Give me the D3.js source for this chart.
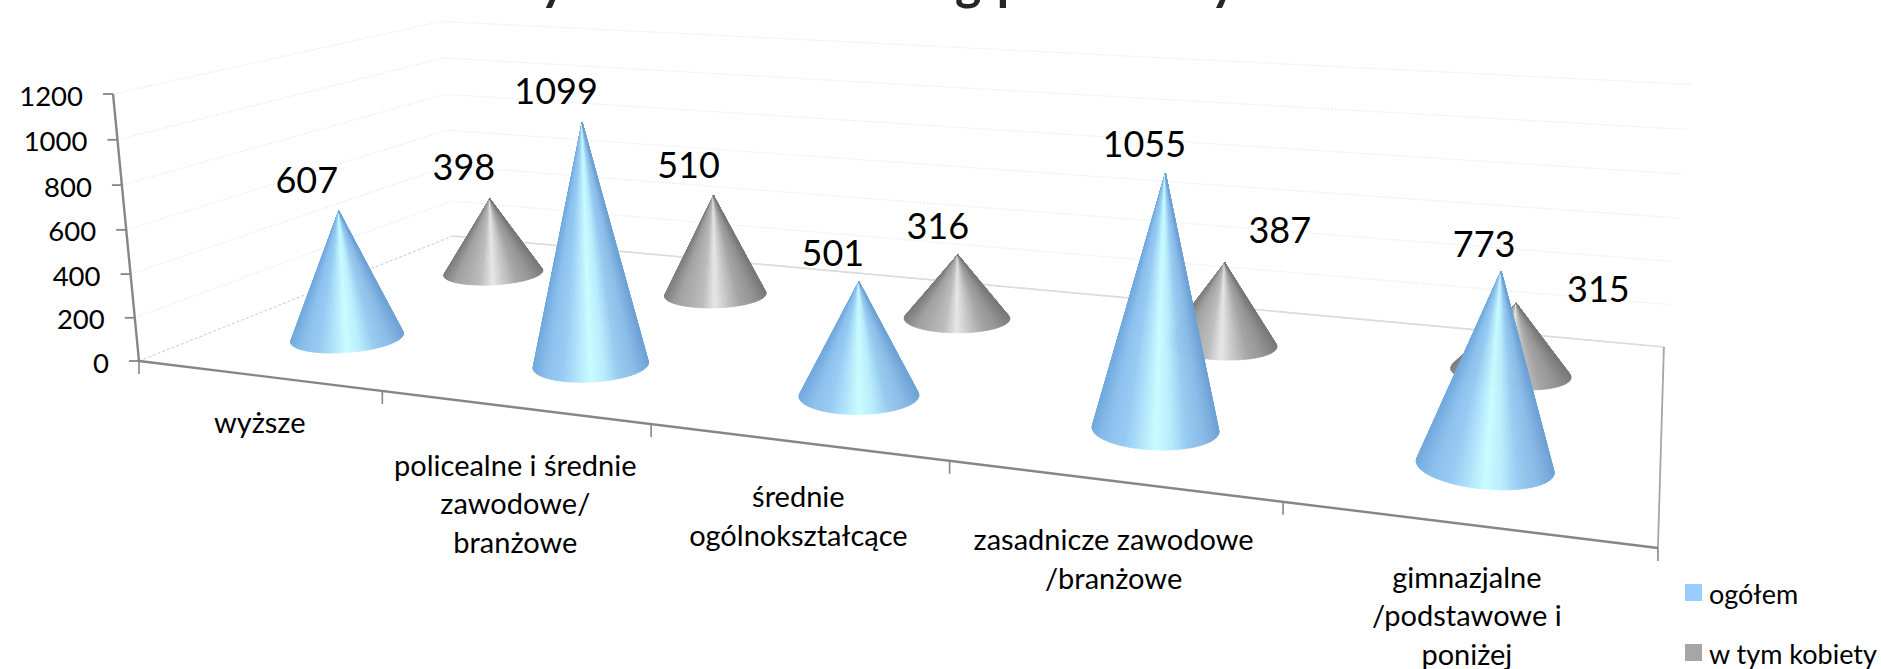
<!DOCTYPE html>
<html><head><meta charset="utf-8">
<script src="https://cdnjs.cloudflare.com/ajax/libs/d3/7.8.5/d3.min.js"></script>
<style>html,body{margin:0;background:#fff;overflow:hidden}text{font-family:Lato,"Open Sans",sans-serif;fill:#000}</style>
</head><body><svg id="c" width="1881" height="669"></svg>
<script>
const titleParts = ["Osoby"," bezrobotne według"," poziomu w","ykształcenia"];
const titleSpacing = [0,-1.7,-3.2,0];
const titleShift = [0,0,8,0];
const categories = ["wyższe","policealne i średnie","średnie","zasadnicze zawodowe","gimnazjalne"];
const categoryLines = [["wyższe"],["policealne i średnie","zawodowe/","branżowe"],["średnie","ogólnokształcące"],["zasadnicze zawodowe","/branżowe"],["gimnazjalne","/podstawowe i","poniżej"]];
const seriesNames = ["w tym kobiety","ogółem"];
const ogolem = [607,1099,501,1055,773];
const kobiety = [398,510,316,387,315];
const yTicks = [0,200,400,600,800,1000,1200];
const swatch = {"ogółem":"#99ccff","w tym kobiety":"#a6a6a6"};
const shades = {
 "ogółem":["#72aade","#8cc0ee","#95caf3","#aee2fa","#c9fcff","#b8ecfc","#96caf0","#8abce8","#6fa3d6"],
 "w tym kobiety":["#7f7f7f","#a0a0a0","#adadad","#bcbcbc","#e6e6e6","#c4c4c4","#a4a4a4","#949494","#7a7a7a"]
};
// manual label nudges, as in the source chart (px from cone apex)
const labelNudge = {"ogółem":[[-32,-30],[-26,-31],[-26,-28],[-21,-29],[-17,-27]],"w tym kobiety":[[-26,-31],[-25,-30],[-20,-28],[55,-32],[82,-14]]};
const catLabelGap = [46,57,54,58,52];

const svg = d3.select("#c");
// projective camera: floor coords u,v in 0..1, height w in 0..1
const cam = {a:1126,b:429.7,c:139,p:-29.9,d:57.1,e:-64.7,f:361,r:-270.25,g:-0.237,h:0.2555,q:-0.0346};
const proj = (u,v,w=0)=>{const W=cam.g*u+cam.h*v+cam.q*w+1;
  return [(cam.a*u+cam.b*v+cam.p*w+cam.c)/W,(cam.d*u+cam.e*v+cam.r*w+cam.f)/W];};
const uScale = d3.scaleBand().domain(categories).range([0,1]);
const vScale = d3.scalePoint().domain(["ogółem","w tym kobiety"]).range([0.25,0.75]);
const wScale = d3.scaleLinear().domain([0,1200]).range([0,1]);
const coneScale = d3.scaleLinear().domain([0,1200]).range([0,0.987]);
const RU=0.0395, RV=0.1;
const line = d3.line();

// gridlines on the walls
const grid = svg.append("g").attr("fill","none").attr("stroke-width",1.2);
yTicks.forEach(t=>{const w=wScale(t);
  grid.append("path").attr("d",line([proj(0,0,w),proj(0,1,w),proj(1,1,w)]))
   .attr("stroke",t===0?"#d4d4d4":"#ededed").attr("stroke-dasharray",t===0?"3 2":"2 1.5");});
// floor
svg.append("path").attr("d",line([proj(0,1),proj(1,1)])).attr("stroke","#dcdcdc").attr("stroke-width",1.6).attr("fill","none");
svg.append("path").attr("d",line([proj(1,1),proj(1,0)])).attr("stroke","#a6a6a6").attr("stroke-width",1.8).attr("fill","none");
const axis = svg.append("g").attr("stroke","#868686").attr("fill","none");
axis.append("path").attr("d",line([proj(0,0,0),proj(0,0,1)])).attr("stroke-width",2.4);
axis.append("path").attr("d",line([proj(0,0),proj(1,0)])).attr("stroke-width",2.4);
yTicks.forEach(t=>{const P=proj(0,0,wScale(t));
  axis.append("path").attr("d",line([[P[0]-10,P[1]],P])).attr("stroke-width",1.8);
  svg.append("text").attr("x",P[0]-30).attr("y",P[1]+1).attr("text-anchor","end").attr("dominant-baseline","central").attr("font-size",27.5).text(t);});
[0,1,2,3,4,5].forEach(i=>{const P=proj(i/categories.length,0);
  axis.append("path").attr("d",line([P,[P[0],P[1]+13]])).attr("stroke-width",1.6);});

// cones
function cone(name,cat,val){
  const u=uScale(cat)+uScale.bandwidth()/2+0.002, v=vScale(name), w=coneScale(val);
  const apex=proj(u,v,w);
  const ring=d3.range(0,360,2).map(t=>{const r=t*Math.PI/180;return proj(u+RU*Math.cos(r),v+RV*Math.sin(r),0);});
  const hull=d3.polygonHull([apex,...ring]);
  const k=hull.findIndex(p=>p===apex);
  let arc=[...hull.slice(k+1),...hull.slice(0,k)];
  const xs=d3.extent(arc,p=>p[0]);
  const col=d3.scaleLinear().domain(d3.range(9).map(i=>i/8)).range(shades[name]).interpolate(d3.interpolateRgb);
  const g=svg.append("g");
  d3.pairs(arc).forEach(([p,q])=>{
    const c=col(((p[0]+q[0])/2-xs[0])/(xs[1]-xs[0]));
    g.append("path").attr("d",line([apex,p,q])+"Z").attr("fill",c).attr("stroke",c).attr("stroke-width",0.7);
  });
  return apex;
}
const seriesData={"ogółem":ogolem,"w tym kobiety":kobiety};
const apexes={};
seriesNames.forEach(name=>{apexes[name]=categories.map((c,i)=>cone(name,c,seriesData[name][i]));});
seriesNames.forEach(name=>{apexes[name].forEach((A,i)=>{
  const n=labelNudge[name][i];
  svg.append("text").attr("x",A[0]+n[0]).attr("y",A[1]+n[1]-1.5).attr("text-anchor","middle").attr("dominant-baseline","central").attr("font-size",36).text(seriesData[name][i]);
});});

// category labels
categories.forEach((c,i)=>{
  const P=proj(uScale(c)+uScale.bandwidth()/2,0);
  categoryLines[i].forEach((l,j)=>{
    svg.append("text").attr("x",P[0]+2).attr("y",P[1]+catLabelGap[i]+j*38.5).attr("text-anchor","middle").attr("dominant-baseline","central").attr("font-size",29).text(l);
  });
});

// legend
["ogółem","w tym kobiety"].forEach((n,i)=>{
  const y=584+i*60;
  svg.append("rect").attr("x",1685).attr("y",y).attr("width",17).attr("height",17).attr("fill",swatch[n]);
  svg.append("text").attr("x",1709).attr("y",y+9).attr("dominant-baseline","central").attr("font-size",27).text(n);
});
// title: cropped by the top edge of the picture
const title=svg.append("text").attr("x",421.6).attr("y",0).attr("font-size",50).attr("font-weight",700).style("fill","#262626").style("white-space","pre");
titleParts.forEach((s,i)=>title.append("tspan").attr("dx",titleShift[i]).attr("letter-spacing",titleSpacing[i]).text(s));
</script></body></html>
